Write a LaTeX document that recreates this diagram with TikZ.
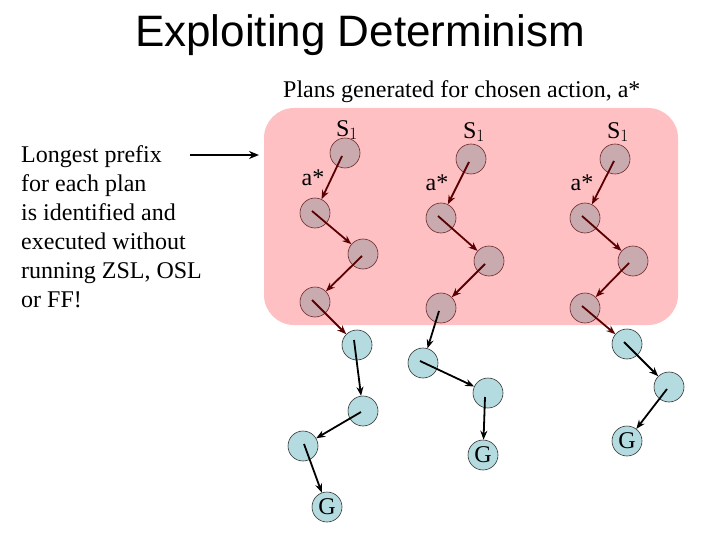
\documentclass[tikz,border=0pt]{standalone}
\usepackage{fontspec}
\setmainfont{Liberation Serif}
\newfontfamily\titlefont{Liberation Sans}
\usetikzlibrary{arrows.meta}
\definecolor{pinkbg}{RGB}{255,192,196}
\definecolor{pinknode}{RGB}{200,170,175}
\definecolor{pinkline}{RGB}{110,40,40}
\definecolor{cyannode}{RGB}{180,220,224}
\definecolor{darkred}{RGB}{90,0,0}
\tikzset{
  pn/.style={circle,draw=pinkline,fill=pinknode,minimum size=30pt,inner sep=0pt,line width=0.6pt},
  cn/.style={circle,draw=black!80,fill=cyannode,minimum size=30pt,inner sep=0pt,line width=0.6pt,font=\fontsize{24}{24}\selectfont},
  pa/.style={-{Stealth[length=9pt,width=7pt]},draw=darkred,line width=1.8pt},
  ca/.style={-{Stealth[length=9pt,width=7pt]},draw=black,line width=1.8pt},
  lbl/.style={font=\fontsize{24}{24}\selectfont,inner sep=0pt},
}
\begin{document}
\begin{tikzpicture}[x=1pt,y=-1pt]
\useasboundingbox (0,0) rectangle (720,540);
\fill[pinkbg,rounded corners=30pt] (264,108) rectangle (678,325);
\node[font=\titlefont\fontsize{44}{44}\selectfont] (title) at (360,35) {Exploiting Determinism};
\node[lbl,anchor=west] (plans) at (283,92) {Plans generated for chosen action, a*};
\node[lbl,anchor=north west,align=left,font=\fontsize{24}{29}\selectfont] (txt) at (21,145) {Longest prefix\\for each plan\\is identified and\\executed without\\running ZSL, OSL\\or FF!};
\coordinate (arrs) at (190,155);
\coordinate (arre) at (259,155);
\draw[-{Stealth[length=10pt,width=8pt]},line width=2pt] (arrs) -- (arre);
% column 1
\node[pn] (a1) at (345,153) {};
\node[pn] (a2) at (315,213) {};
\node[pn] (a3) at (363,254) {};
\node[pn] (a4) at (315,302) {};
\node[cn] (a5) at (357,345) {};
\node[cn] (a6) at (363,411) {};
\node[cn] (a7) at (303,446) {};
\node[cn] (a8) at (327,507) {G};
\node[lbl] (s1a) at (347,130) {S$_1$};
\node[lbl] (asa) at (313,178) {a*};
% column 2
\node[pn] (b1) at (471,159) {};
\node[pn] (b2) at (441,218) {};
\node[pn] (b3) at (489,261) {};
\node[pn] (b4) at (441,308) {};
\node[cn] (b5) at (423,363) {};
\node[cn] (b6) at (488,393) {};
\node[cn] (b7) at (483,455) {G};
\node[lbl] (s1b) at (474,132) {S$_1$};
\node[lbl] (asb) at (437,183) {a*};
% column 3
\node[pn] (c1) at (615,159) {};
\node[pn] (c2) at (585,218) {};
\node[pn] (c3) at (633,261) {};
\node[pn] (c4) at (585,308) {};
\node[cn] (c5) at (627,344) {};
\node[cn] (c6) at (669,387) {};
\node[cn] (c7) at (627,441) {G};
\node[lbl] (s1c) at (618,132) {S$_1$};
\node[lbl] (asc) at (582,183) {a*};
% arrows
\draw[pa] ([shift={(-3,3)}]a1.center) -- (a2);
\draw[pa] ([shift={(-3,-2)}]a2.center) -- (a3);
\draw[pa] ([shift={(-1,2)}]a3.center) -- (a4);
\draw[pa] ([shift={(-3,-2)}]a4.center) -- (a5);
\draw[ca] ([shift={(-3,-5)}]a5.center) -- (a6);
\draw[ca] ([shift={(-2,1)}]a6.center) -- (a7);
\draw[ca] ([shift={(1,-2)}]a7.center) -- (a8);
\draw[pa] ([shift={(-2,3)}]b1.center) -- (b2);
\draw[pa] ([shift={(-3,-2)}]b2.center) -- (b3);
\draw[pa] ([shift={(-4,3)}]b3.center) -- (b4);
\draw[ca] ([shift={(-2,3)}]b4.center) -- (b5);
\draw[ca] ([shift={(-3,-2)}]b5.center) -- (b6);
\draw[ca] ([shift={(-3,4)}]b6.center) -- (b7);
\draw[pa] ([shift={(-1,2)}]c1.center) -- (c2);
\draw[pa] ([shift={(-3,-2)}]c2.center) -- (c3);
\draw[pa] ([shift={(-4,2)}]c3.center) -- (c4);
\draw[pa] ([shift={(-3,-2)}]c4.center) -- (c5);
\draw[ca] ([shift={(-3,-2)}]c5.center) -- (c6);
\draw[ca] ([shift={(-2,2)}]c6.center) -- (c7);
\end{tikzpicture}
\end{document}
